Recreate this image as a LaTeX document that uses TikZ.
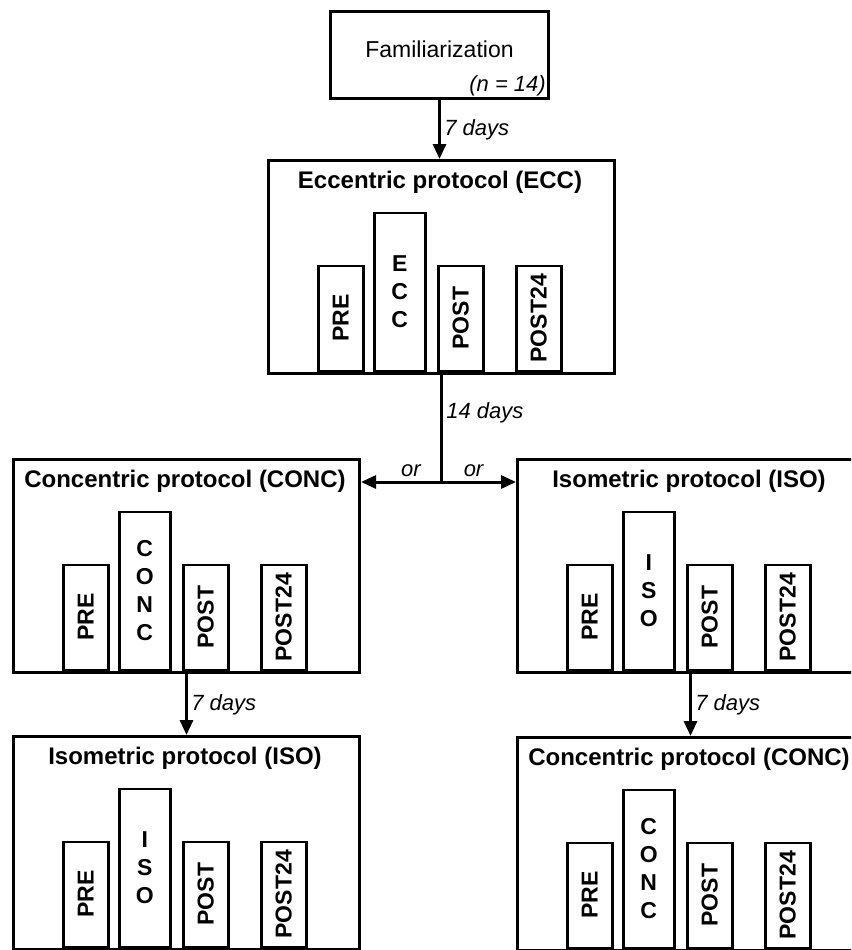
\documentclass[tikz,border=0pt]{standalone}
\usepackage{fontspec}
\setmainfont{Liberation Sans}
\usetikzlibrary{arrows.meta,positioning}

\begin{document}
\begin{tikzpicture}[x=1pt,y=-1pt,
  stage/.style={draw,line width=3pt,minimum width=346pt,minimum height=213pt,anchor=north west,inner sep=0pt},
  bar/.style={draw,line width=2.5pt,minimum width=45pt,minimum height=105pt,anchor=south west,inner sep=0pt,align=center,font=\bfseries\fontsize{23}{28}\selectfont},
  tallbar/.style={bar,minimum width=51pt,minimum height=158pt},
  heading/.style={font=\bfseries\fontsize{24}{28}\selectfont},
  delay/.style={font=\itshape\fontsize{22}{26}\selectfont},
  flow/.style={line width=3pt,-{Triangle[length=15pt,width=13pt]}}]
\useasboundingbox (0,0) rectangle (851,950);
\clip (0,0) rectangle (851,950);
% familiarization
\node[draw,line width=3pt,minimum width=218pt,minimum height=87pt,anchor=north west] (fam) at (329,10) {};
\node[font=\fontsize{23}{27}\selectfont] (fam-text) at ([yshift=6pt]fam.center) {Familiarization};
\node[delay,anchor=south east,inner sep=4pt] (fam-n) at (fam.south east) {(n = 14)};
% protocols
\foreach \p/\px/\py/\ptitle/\pmain in {ecc/267/159/Eccentric protocol (ECC)/E\\C\\C,
    conc/12/458/Concentric protocol (CONC)/C\\O\\N\\C,
    iso/516/458/Isometric protocol (ISO)/I\\S\\O,
    isob/12/735/Isometric protocol (ISO)/I\\S\\O,
    concb/516/736/Concentric protocol (CONC)/C\\O\\N\\C}{
  \node[stage] (\p) at (\px,\py) {};
  \node[heading] (\p-title) at (\px+173,\py+23) {\ptitle};
  \node[bar] (\p-pre) at (\px+50,\py+213) {\rotatebox{90}{PRE}};
  \node[tallbar] (\p-ex) at (\px+106,\py+213) {\pmain};
  \node[bar] (\p-post) at (\px+170,\py+213) {\rotatebox{90}{POST}};
  \node[bar] (\p-post24) at (\px+248,\py+213) {\rotatebox{90}{POST24}};
}
% connectors
\path (ecc.south) ++(0,107) coordinate (split);
\draw[flow] (fam.south) -- node[delay,right] {7 days} (fam.south |- ecc.north);
\draw[line width=3pt] (ecc.south) -- node[delay,right,pos=0.35] {14 days} (split);
\draw[flow] (split) -- node[delay,above,pos=0.38] {or} (split -| conc.east);
\draw[flow] (split) -- node[delay,above,pos=0.43] {or} (split -| iso.west);
\draw[flow] (conc.south) -- node[delay,right] {7 days} (isob.north);
\draw[flow] (iso.south) -- node[delay,right] {7 days} (concb.north);
\end{tikzpicture}
\end{document}
